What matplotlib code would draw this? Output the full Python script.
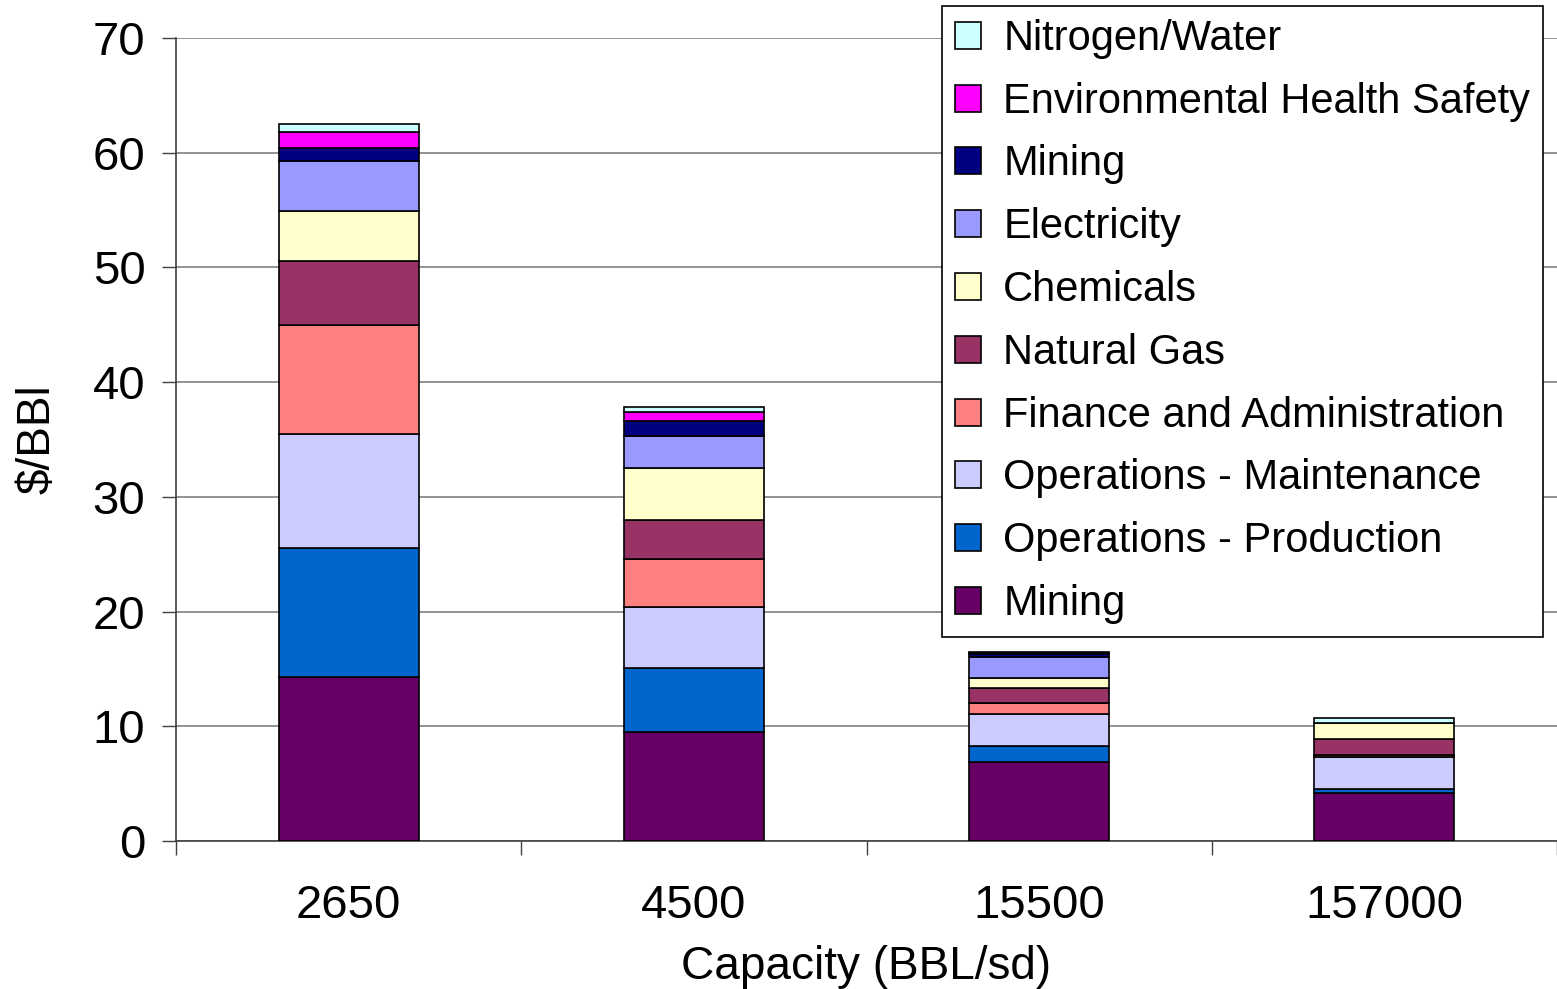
import numpy as np
import matplotlib
matplotlib.use("Agg")
import matplotlib.pyplot as plt

capacities = ["2650", "4500", "15500", "157000"]

# cost components, bottom to top ($/BBl)
mining = [14.3, 9.5, 6.9, 4.2]
ops_production = [11.2, 5.6, 1.4, 0.3]
ops_maintenance = [10.0, 5.3, 2.8, 2.8]
finance_admin = [9.5, 4.2, 0.9, 0.2]
natural_gas = [5.6, 3.4, 1.3, 1.4]
chemicals = [4.3, 4.5, 0.9, 1.4]
electricity = [4.4, 2.8, 1.8, 0.0]
mining_2 = [1.1, 1.3, 0.3, 0.0]
env_health_safety = [1.4, 0.8, 0.1, 0.0]
nitrogen_water = [0.7, 0.4, 0.1, 0.4]

series = [
    ("Mining", mining, "#660066"),
    ("Operations - Production", ops_production, "#0066CC"),
    ("Operations - Maintenance", ops_maintenance, "#CCCCFF"),
    ("Finance and Administration", finance_admin, "#FF8080"),
    ("Natural Gas", natural_gas, "#993366"),
    ("Chemicals", chemicals, "#FFFFCC"),
    ("Electricity", electricity, "#9999FF"),
    ("Mining", mining_2, "#000080"),
    ("Environmental Health Safety", env_health_safety, "#FF00FF"),
    ("Nitrogen/Water", nitrogen_water, "#CCFFFF"),
]

plt.rcParams["font.family"] = ["Liberation Sans", "DejaVu Sans"]

W, H = 1557, 989
fig = plt.figure(figsize=(W / 100, H / 100), dpi=100)
ax = fig.add_axes([176 / W, 1 - 841 / H, 1 - 176 / W, (841 - 38) / H])

x = np.arange(len(capacities))
bottom = np.zeros(len(capacities))
handles = []
for label, vals, color in series:
    b = ax.bar(x, vals, width=0.405, bottom=bottom, color=color,
               edgecolor="black", linewidth=1.2, label=label, zorder=3)
    handles.append(b)
    bottom += np.array(vals)

ax.set_xlim(-0.5, len(capacities) - 0.5)
ax.set_ylim(0, 70)
ax.set_yticks(range(0, 71, 10))
ax.set_xticks(x)
ax.set_xticklabels(capacities)
ax.set_xticks(np.arange(-0.5, len(capacities), 1.0), minor=True)
ax.tick_params(axis="x", which="major", length=0, labelsize=34, pad=31)
ax.tick_params(axis="x", which="minor", length=10, width=1, color="#404040")
ax.tick_params(axis="y", length=10, width=1, color="#404040", labelsize=34, pad=12)

ax.yaxis.grid(True, color="#808080", linewidth=1.2, zorder=0)
ax.set_axisbelow(True)
for side in ("top", "right"):
    ax.spines[side].set_visible(False)
for side in ("left", "bottom"):
    ax.spines[side].set_color("#404040")
    ax.spines[side].set_linewidth(1.2)

ax.set_ylabel(r"\$/BBl", fontsize=33, va="center")
ax.yaxis.set_label_coords((38 - 176) / (W - 176), 0.5)
ax.set_xlabel("Capacity (BBL/sd)", fontsize=33, va="center")
ax.xaxis.set_label_coords(0.5, -(967 - 841) / (841 - 38))

leg = ax.legend(handles[::-1], [s[0] for s in series][::-1],
                loc="upper left", bbox_to_anchor=(942 / W, 1 - 6 / H),
                bbox_transform=fig.transFigure, fontsize=30,
                frameon=True, fancybox=False, framealpha=1,
                edgecolor="black", borderpad=0.31, labelspacing=0.547,
                handlelength=0.62, handleheight=0.62, handletextpad=0.54,
                borderaxespad=0)
leg.get_frame().set_linewidth(1.2)
leg.set_zorder(10)

fig.savefig("out.png", dpi=100)
